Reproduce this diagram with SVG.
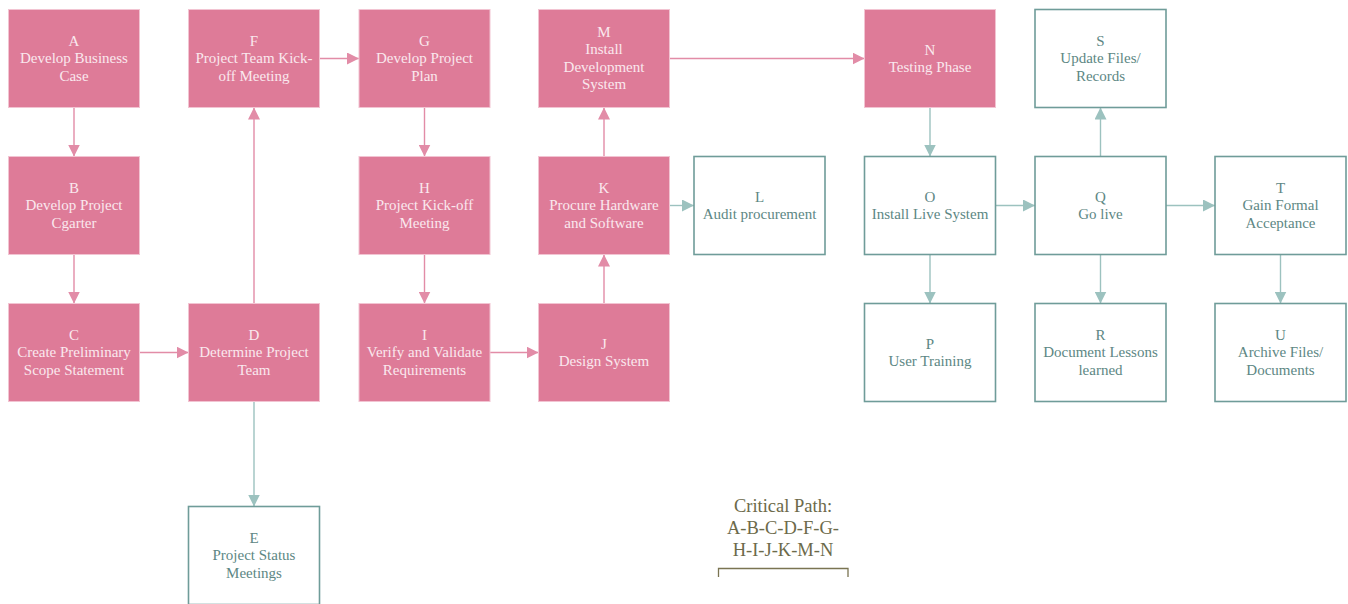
<svg xmlns="http://www.w3.org/2000/svg" width="1348" height="604" viewBox="0 0 1348 604">
  <defs>
    <style>
      .crit rect { fill: #de7b98; stroke: #f2c4d2; stroke-width: 1; }
      .crit text { fill: #fae8ee; }
      .side rect { fill: #ffffff; stroke: #6f9c99; stroke-width: 1.6; }
      .side text { fill: #5d8784; }
      .node text { font-family: "Liberation Serif", "DejaVu Serif", serif; font-size: 15px; text-anchor: middle; transform: translate(0px, -1px); }
      .lp { fill: none; stroke: #e28ca7; stroke-width: 1.4; marker-end: url(#ahP); }
      .lt { fill: none; stroke: #9cc2bf; stroke-width: 1.4; marker-end: url(#ahT); }
      .note { font-family: "Liberation Serif", "DejaVu Serif", serif; font-size: 18.5px; fill: #6c6a4a; text-anchor: middle; }
    </style>
    <marker id="ahP" markerUnits="userSpaceOnUse" markerWidth="12" markerHeight="12" viewBox="0 0 10 10" refX="10" refY="5" orient="auto">
      <path d="M0,0 L10,5 L0,10 Z" fill="#e28ca7"/>
    </marker>
    <marker id="ahT" markerUnits="userSpaceOnUse" markerWidth="12" markerHeight="12" viewBox="0 0 10 10" refX="10" refY="5" orient="auto">
      <path d="M0,0 L10,5 L0,10 Z" fill="#9cc2bf"/>
    </marker>
  </defs>

  <rect x="0" y="0" width="1348" height="604" fill="#ffffff"/>

  <!-- connectors -->
  <g id="connectors">
    <path class="lp" d="M74,107.5 V156.5"/>
    <path class="lp" d="M74,254.5 V303.5"/>
    <path class="lp" d="M139.5,352.5 H188.5"/>
    <path class="lp" d="M254,303.5 V107.5"/>
    <path class="lt" d="M254,401.5 V506.5"/>
    <path class="lp" d="M319.5,58.5 H359"/>
    <path class="lp" d="M424.5,107.5 V156.5"/>
    <path class="lp" d="M424.5,254.5 V303.5"/>
    <path class="lp" d="M490,352.5 H538.5"/>
    <path class="lp" d="M604,303.5 V254.5"/>
    <path class="lp" d="M604,156.5 V107.5"/>
    <path class="lt" d="M669.5,205.5 H694"/>
    <path class="lp" d="M669.5,58.5 H864.5"/>
    <path class="lt" d="M930,107.5 V156.5"/>
    <path class="lt" d="M930,254.5 V303.5"/>
    <path class="lt" d="M995.5,205.5 H1035"/>
    <path class="lt" d="M1100.5,156.5 V107.5"/>
    <path class="lt" d="M1100.5,254.5 V303.5"/>
    <path class="lt" d="M1166,205.5 H1215"/>
    <path class="lt" d="M1280.5,254.5 V303.5"/>
  </g>

  <!-- critical path tasks -->
  <g id="A" class="node crit"><rect x="8.5" y="9.5" width="131" height="98"/>
    <text x="74" y="46.5">A</text><text x="74" y="64">Develop Business</text><text x="74" y="81.5">Case</text></g>
  <g id="B" class="node crit"><rect x="8.5" y="156.5" width="131" height="98"/>
    <text x="74" y="193.5">B</text><text x="74" y="211">Develop Project</text><text x="74" y="228.5">Cgarter</text></g>
  <g id="C" class="node crit"><rect x="8.5" y="303.5" width="131" height="98"/>
    <text x="74" y="340.5">C</text><text x="74" y="358">Create Preliminary</text><text x="74" y="375.5">Scope Statement</text></g>
  <g id="D" class="node crit"><rect x="188.5" y="303.5" width="131" height="98"/>
    <text x="254" y="340.5">D</text><text x="254" y="358">Determine Project</text><text x="254" y="375.5">Team</text></g>
  <g id="F" class="node crit"><rect x="188.5" y="9.5" width="131" height="98"/>
    <text x="254" y="46.5">F</text><text x="254" y="64">Project Team Kick-</text><text x="254" y="81.5">off Meeting</text></g>
  <g id="G" class="node crit"><rect x="359" y="9.5" width="131" height="98"/>
    <text x="424.5" y="46.5">G</text><text x="424.5" y="64">Develop Project</text><text x="424.5" y="81.5">Plan</text></g>
  <g id="H" class="node crit"><rect x="359" y="156.5" width="131" height="98"/>
    <text x="424.5" y="193.5">H</text><text x="424.5" y="211">Project Kick-off</text><text x="424.5" y="228.5">Meeting</text></g>
  <g id="I" class="node crit"><rect x="359" y="303.5" width="131" height="98"/>
    <text x="424.5" y="340.5">I</text><text x="424.5" y="358">Verify and Validate</text><text x="424.5" y="375.5">Requirements</text></g>
  <g id="J" class="node crit"><rect x="538.5" y="303.5" width="131" height="98"/>
    <text x="604" y="349.5">J</text><text x="604" y="367">Design System</text></g>
  <g id="K" class="node crit"><rect x="538.5" y="156.5" width="131" height="98"/>
    <text x="604" y="193.5">K</text><text x="604" y="211">Procure Hardware</text><text x="604" y="228.5">and Software</text></g>
  <g id="M" class="node crit"><rect x="538.5" y="9.5" width="131" height="98"/>
    <text x="604" y="37.5">M</text><text x="604" y="55">Install</text><text x="604" y="72.5">Development</text><text x="604" y="90">System</text></g>
  <g id="N" class="node crit"><rect x="864.5" y="9.5" width="131" height="98"/>
    <text x="930" y="55.5">N</text><text x="930" y="73">Testing Phase</text></g>

  <!-- other tasks -->
  <g id="E" class="node side"><rect x="188.5" y="506.5" width="131" height="98"/>
    <text x="254" y="543.5">E</text><text x="254" y="561">Project Status</text><text x="254" y="578.5">Meetings</text></g>
  <g id="L" class="node side"><rect x="694" y="156.5" width="131" height="98"/>
    <text x="759.5" y="202.5">L</text><text x="759.5" y="220">Audit procurement</text></g>
  <g id="O" class="node side"><rect x="864.5" y="156.5" width="131" height="98"/>
    <text x="930" y="202.5">O</text><text x="930" y="220">Install Live System</text></g>
  <g id="P" class="node side"><rect x="864.5" y="303.5" width="131" height="98"/>
    <text x="930" y="349.5">P</text><text x="930" y="367">User Training</text></g>
  <g id="Q" class="node side"><rect x="1035" y="156.5" width="131" height="98"/>
    <text x="1100.5" y="202.5">Q</text><text x="1100.5" y="220">Go live</text></g>
  <g id="R" class="node side"><rect x="1035" y="303.5" width="131" height="98"/>
    <text x="1100.5" y="340.5">R</text><text x="1100.5" y="358">Document Lessons</text><text x="1100.5" y="375.5">learned</text></g>
  <g id="S" class="node side"><rect x="1035" y="9.5" width="131" height="98"/>
    <text x="1100.5" y="46.5">S</text><text x="1100.5" y="64">Update Files/</text><text x="1100.5" y="81.5">Records</text></g>
  <g id="T" class="node side"><rect x="1215" y="156.5" width="131" height="98"/>
    <text x="1280.5" y="193.5">T</text><text x="1280.5" y="211">Gain Formal</text><text x="1280.5" y="228.5">Acceptance</text></g>
  <g id="U" class="node side"><rect x="1215" y="303.5" width="131" height="98"/>
    <text x="1280.5" y="340.5">U</text><text x="1280.5" y="358">Archive Files/</text><text x="1280.5" y="375.5">Documents</text></g>

  <!-- critical path note -->
  <g id="critical-path">
    <text class="note" x="783" y="512">Critical Path:</text>
    <text class="note" x="783" y="534">A-B-C-D-F-G-</text>
    <text class="note" x="783" y="555.5">H-I-J-K-M-N</text>
    <path d="M718.5,577 V568.5 H848 V577" fill="none" stroke="#7a7452" stroke-width="1.3"/>
  </g>
</svg>
